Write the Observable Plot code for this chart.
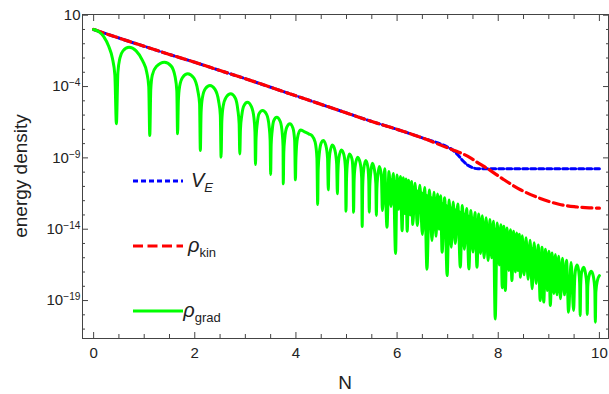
<!DOCTYPE html>
<html><head><meta charset="utf-8">
<script src="https://cdn.jsdelivr.net/npm/d3@7"></script>
<script src="https://cdn.jsdelivr.net/npm/@observablehq/plot@0.6"></script>
<style>body{margin:0;background:#fff}#chart svg{display:block}</style>
</head><body><div id="chart"></div>
<script>
// ---- data (log10 of energy density vs N) ----
const veN   = [0,0.5,1,1.5,2,2.5,3,3.5,4,4.5,5,5.5,6,6.5,7,7.1,7.2,7.3,7.4,7.5,7.6,7.8,8,9,10];
const veLog = [0,-0.6,-1.18,-1.75,-2.3,-2.88,-3.45,-4.05,-4.65,-5.25,-5.85,-6.45,-7.0,-7.6,-8.25,-8.45,-8.78,-9.2,-9.52,-9.7,-9.76,-9.77,-9.77,-9.77,-9.77];

const kinN   = [0,0.5,1,1.5,2,2.5,3,3.5,4,4.5,5,5.5,6,6.5,7,7.15,7.3,7.45,7.6,7.8,8.1,8.45,8.8,9.2,9.5,9.8,10];
const kinLog = [0,-0.6,-1.18,-1.75,-2.3,-2.88,-3.45,-4.05,-4.65,-5.25,-5.85,-6.45,-7.0,-7.6,-8.3,-8.5,-8.72,-9.0,-9.35,-9.78,-10.5,-11.25,-11.8,-12.25,-12.42,-12.5,-12.52];

const gradPts = [
[0,0],[0.1,-0.15],[0.2,-0.5],[0.3,-1.2],[0.37,-2.0],[0.42,-3.2],[0.45,-6.6],
[0.48,-3.0],[0.52,-2.0],[0.58,-1.5],[0.70,-1.25],[0.84,-1.5],[0.97,-2.2],[1.05,-3.0],[1.09,-4.0],[1.11,-7.43],
[1.13,-4.2],[1.16,-3.2],[1.24,-2.6],[1.40,-2.30],[1.53,-2.55],[1.61,-3.3],[1.645,-4.3],[1.66,-7.31],
[1.675,-5.0],[1.70,-4.0],[1.76,-3.35],[1.86,-3.11],[1.98,-3.4],[2.06,-4.3],[2.095,-5.2],[2.11,-8.48],
[2.125,-5.8],[2.15,-4.8],[2.21,-4.15],[2.30,-3.93],[2.40,-4.2],[2.47,-5.0],[2.505,-6.0],[2.52,-8.95],
[2.535,-6.4],[2.56,-5.4],[2.62,-4.75],[2.71,-4.51],[2.80,-4.8],[2.85,-5.6],[2.877,-6.6],[2.89,-8.72],
[2.903,-7.0],[2.93,-6.0],[2.97,-5.35],[3.04,-5.10],[3.12,-5.4],[3.17,-6.2],[3.19,-7.2],[3.20,-9.47],
[3.212,-7.6],[3.235,-6.6],[3.27,-5.9],[3.34,-5.68],[3.42,-5.95],[3.47,-6.8],[3.49,-7.8],[3.50,-10.17],
[3.51,-8.1],[3.53,-7.1],[3.56,-6.4],[3.62,-6.15],[3.69,-6.45],[3.73,-7.3],[3.745,-8.2],[3.75,-10.82],
[3.76,-8.6],[3.78,-7.6],[3.82,-6.85],[3.88,-6.61],[3.94,-6.9],[3.975,-7.8],[3.99,-10.54],
[4.00,-9.0],[4.03,-7.6],[4.09,-7.04],[4.17,-7.18],[4.26,-7.33],[4.32,-7.45],[4.38,-7.9],[4.415,-9.0],[4.43,-12.27],
[4.44,-9.8],[4.465,-8.6],[4.50,-7.95],[4.54,-7.78],[4.59,-8.1],[4.625,-9.0],[4.64,-11.24],
[4.65,-9.8],[4.67,-8.7],[4.72,-8.09],[4.77,-8.45],[4.805,-9.4],[4.82,-11.52],
[4.83,-10.0],[4.85,-9.0],[4.90,-8.44],[4.95,-8.8],[4.98,-9.8],[4.99,-12.74],
[5.00,-10.5],[5.02,-9.3],[5.06,-8.72],[5.11,-9.1],[5.13,-10.2],[5.14,-12.81],
[5.15,-10.6],[5.17,-9.6],[5.22,-8.95],[5.27,-9.35],[5.30,-10.4],[5.31,-13.81],
[5.32,-11.0],[5.34,-9.8],[5.38,-9.19],[5.42,-9.6],[5.44,-10.6],[5.45,-12.81],
[5.46,-11.0],[5.48,-10.0],[5.51,-9.37],[5.55,-9.8],[5.58,-10.8],[5.59,-13.04],
[5.60,-11.2],[5.62,-10.2],[5.65,-9.61],[5.69,-10.3],[5.71,-12.69],
[5.755,-9.77],[5.80,-13.86],[5.84,-9.96],[5.88,-12.4],[5.925,-10.09],[5.97,-15.7],[6.00,-10.2],[6.03,-12.6],
[6.065,-10.3],[6.10,-14.1],[6.125,-10.4],[6.15,-12.9],[6.175,-10.48],[6.20,-14.14],[6.23,-10.57],[6.26,-13.0],
[6.285,-10.66],[6.31,-13.67],[6.355,-10.77],[6.40,-13.74],[6.45,-10.92],[6.50,-14.37],[6.545,-11.08],[6.59,-16.8],
[6.64,-11.25],[6.69,-14.79],[6.73,-11.41],[6.77,-14.5],[6.80,-11.54],[6.83,-14.0],[6.86,-11.65],[6.89,-15.61],
[6.94,-11.79],[6.99,-17.25],[7.03,-11.95],[7.07,-15.26],[7.11,-12.09],[7.15,-15.0],[7.20,-12.24],[7.25,-16.66],
[7.29,-12.34],[7.33,-15.4],[7.375,-12.54],[7.42,-16.78],[7.46,-12.68],[7.50,-15.6],[7.54,-12.82],[7.58,-16.66],
[7.615,-12.94],[7.65,-15.7],[7.685,-13.06],[7.72,-16.0],[7.76,-13.19],[7.80,-16.2],[7.835,-13.32],[7.87,-16.0],
[7.905,-13.44],[7.94,-20.29],[7.98,-13.57],[8.02,-16.5],[8.05,-13.69],[8.08,-18.1],[8.11,-13.8],[8.14,-18.3],
[8.175,-13.92],[8.21,-16.9],[8.24,-14.03],[8.27,-17.6],[8.305,-14.15],[8.34,-17.0],[8.365,-14.26],[8.39,-16.9],
[8.415,-14.35],[8.44,-17.36],[8.475,-14.46],[8.51,-17.2],[8.55,-14.6],[8.59,-17.5],[8.63,-14.77],[8.67,-18.18],
[8.71,-14.94],[8.75,-17.8],[8.79,-15.11],[8.83,-19.0],[8.865,-15.27],[8.90,-19.11],[8.935,-15.41],[8.97,-18.3],
[9.00,-15.55],[9.03,-19.35],[9.065,-15.67],[9.10,-18.5],[9.13,-15.78],[9.16,-18.6],[9.195,-15.9],[9.23,-18.88],
[9.27,-16.03],[9.31,-18.6],[9.35,-16.18],[9.39,-19.82],[9.44,-16.34],[9.49,-19.70],
[9.51,-17.6],[9.53,-16.8],[9.56,-16.5],[9.59,-16.9],[9.61,-17.8],[9.62,-20.05],
[9.63,-17.9],[9.65,-17.0],[9.69,-16.66],[9.72,-17.0],[9.75,-17.9],[9.76,-19.98],
[9.77,-18.0],[9.80,-17.2],[9.84,-16.95],[9.88,-17.3],[9.91,-18.3],[9.92,-20.52],
[9.93,-18.4],[9.96,-17.6],[10.0,-17.25]
];

// solid part of the fast-oscillating band of ρ_grad (upper / lower edge, log10)
const bandN      = [5.85, 6.0, 6.5, 7.0, 7.5, 8.0, 8.5, 9.0, 9.3];
const bandTopLog = [-10.4, -10.6, -11.4, -12.3, -13.15, -14.0, -14.9, -15.95, -16.5];
const bandBotLog = [-11.6, -12.3, -13.0, -13.7, -14.6, -15.9, -16.9, -17.8, -17.0];

const xMajorTicks = [0,2,4,6,8,10];
const xMinorTicks = [0.5,1,1.5,2.5,3,3.5,4.5,5,5.5,6.5,7,7.5,8.5,9,9.5];
const yMajorExp = [1,-4,-9,-14,-19];
const yMinorExp = [0,-1,-2,-3,-5,-6,-7,-8,-10,-11,-12,-13,-15,-16,-17,-18,-20,-21];

const seriesNames = ["V_E","ρ_kin","ρ_grad"];
const seriesColors = ["#0000ff","#ff0000","#00ff00"];
const axisXLabel = "N";
const axisYLabel = "energy density";

// ---- build tables ----
const veData = veN.map((n,i)=>({N:n, v:10**veLog[i]}));
const kinData = kinN.map((n,i)=>({N:n, v:10**kinLog[i]}));
const gradData = gradPts.map(([n,l])=>({N:n, v:10**l}));
const bandData = bandN.map((n,i)=>({N:n, top:10**bandTopLog[i], bot:10**bandBotLog[i]}));

const W=609, H=394, mL=82, mR=1, mT=14, mB=56;
const frameColor = "#444";
const font = "'Liberation Sans', Arial, sans-serif";

const yMajor = yMajorExp.map(e=>10**e);
const yMinor = yMinorExp.map(e=>10**e);

const chart = Plot.plot({
  width: W, height: H,
  marginLeft: mL, marginRight: mR, marginTop: mT, marginBottom: mB,
  style: {fontFamily: font, fontSize: "15px", color: "#222", background: "#fff", overflow: "visible"},
  x: {domain: [-0.22, 10.18]},
  y: {type: "log", domain: [10**-21.66, 10**1.05]},
  marks: [
    Plot.line(veData, {x:"N", y:"v", stroke: seriesColors[0], strokeWidth: 3, strokeDasharray: "5,3", curve: "monotone-x"}),
    Plot.line(kinData, {x:"N", y:"v", stroke: seriesColors[1], strokeWidth: 3.2, strokeDasharray: "10,4.5", curve: "monotone-x"}),
    Plot.areaY(bandData, {x:"N", y1:"bot", y2:"top", fill: seriesColors[2], curve: "monotone-x"}),
    Plot.line(gradData, {x:"N", y:"v", stroke: seriesColors[2], strokeWidth: 3, strokeLinejoin: "round", curve: "monotone-x"}),
    Plot.frame({stroke: frameColor}),
    Plot.axisX(xMajorTicks, {anchor:"bottom", tickSize:-6, fill:"none", stroke: frameColor, label:null}),
    Plot.axisX(xMinorTicks, {anchor:"bottom", tickSize:-4, fill:"none", stroke: frameColor, label:null}),
    Plot.axisX(xMajorTicks, {anchor:"top", tickSize:-6, fill:"none", stroke: frameColor, label:null}),
    Plot.axisX(xMinorTicks, {anchor:"top", tickSize:-4, fill:"none", stroke: frameColor, label:null}),
    Plot.axisY(yMajor, {anchor:"left", tickSize:-6, fill:"none", stroke: frameColor, label:null}),
    Plot.axisY(yMinor, {anchor:"left", tickSize:-3, fill:"none", stroke: frameColor, label:null}),
    Plot.axisY(yMajor, {anchor:"right", tickSize:-6, fill:"none", stroke: frameColor, label:null}),
    Plot.axisY(yMinor, {anchor:"right", tickSize:-3, fill:"none", stroke: frameColor, label:null}),
    Plot.axisX(xMajorTicks, {anchor:"bottom", tickSize:0, tickPadding:9, label:null, tickFormat: d=>String(d)}),
    Plot.axisY(yMajor, {anchor:"left", tickSize:0, tickPadding:2, label:null,
      tickFormat: d => { const e = Math.round(Math.log10(d)); return e === 1 ? "10" : "10^" + e; }})
  ]
});

document.getElementById("chart").appendChild(chart);
const svg = d3.select(chart);

// superscript exponents on y tick labels
svg.selectAll('g[aria-label="y-axis tick label"] text').each(function(){
  const t = d3.select(this);
  const s = t.text();
  if (s.includes("^")) {
    const [base, exp] = s.split("^");
    t.text(null);
    t.append("tspan").text(base);
    t.append("tspan").attr("dy","-0.5em").attr("font-size","0.68em").text(exp.replace("-","−"));
  }
});

// axis titles
svg.append("text").attr("x", (mL + W - mR)/2).attr("y", 389)
  .attr("text-anchor","middle").attr("font-size", 19).attr("fill","#222").attr("font-family", font)
  .text(axisXLabel);
svg.append("text").attr("transform", `translate(27,${(mT + H - mB)/2}) rotate(-90)`)
  .attr("text-anchor","middle").attr("font-size", 19).attr("fill","#222").attr("font-family", font)
  .text(axisYLabel);

// legend (inside the frame)
const leg = svg.append("g").attr("font-family", font).attr("fill","#222");
const legRows = [181, 246, 311];
const dashes = ["5,3","10,4.5",null];
seriesNames.forEach((name,i)=>{
  const y = legRows[i];
  leg.append("line").attr("x1",133).attr("x2",183).attr("y1",y).attr("y2",y)
    .attr("stroke", seriesColors[i]).attr("stroke-width",3)
    .attr("stroke-dasharray", dashes[i]);
  const [base, sub] = name.split("_");
  const t = leg.append("text").attr("x", 202).attr("y", y + 6).attr("font-size", 20);
  t.append("tspan").attr("font-style","italic").text(base);
  t.append("tspan").attr("dy", 5).attr("font-size", 13)
    .attr("font-style", i === 0 ? "italic" : "normal").text(sub);
});
</script>
</body></html>
